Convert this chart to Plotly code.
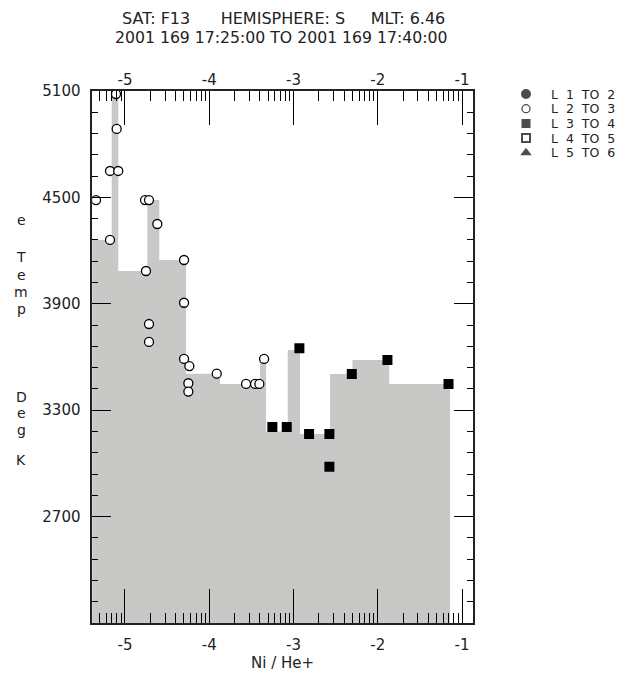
import math
import plotly.graph_objects as go

# ---------------- data ----------------
# x values are log10(Ni / He+), y values are electron temperature (deg K)
l23_x = [-5.344, -5.178, -5.178, -5.107, -5.099, -5.080, -4.762, -4.715, -4.751,
         -4.616, -4.715, -4.715, -4.299, -4.299, -4.299, -4.236, -4.248, -4.248,
         -3.911, -3.563, -3.456, -3.405, -3.349]
l23_y = [4485, 4260, 4649, 5083, 4886, 4649, 4485, 4485, 4085,
         4350, 3786, 3685, 4147, 3906, 3589, 3549, 3452, 3405,
         3506, 3448, 3448, 3448, 3589]

l34_x = [-3.251, -3.080, -2.930, -2.815, -2.574, -2.574, -2.308, -1.885, -1.160]
l34_y = [3205, 3205, 3649, 3166, 3166, 2981, 3504, 3583, 3448]

l12_x, l12_y = [], []
l45_x, l45_y = [], []
l56_x, l56_y = [], []

# step (histogram-like) background: bin edges and levels
step_edges = [-5.42, -5.158, -5.080, -4.735, -4.593, -4.276, -3.872, -3.397,
              -3.325, -3.068, -2.922, -2.565, -2.300, -1.865, -1.142]
step_levels = [4260, 5100, 4085, 4485, 4147, 3506, 3448, 3575,
               3180, 3640, 3166, 3504, 3583, 3448]

x_major = [-5, -4, -3, -2, -1]
x_major_text = ["-5", "-4", "-3", "-2", "-1"]
y_major = [2700, 3300, 3900, 4500, 5100]

legend_labels = ["L  1  TO  2", "L  2  TO  3", "L  3  TO  4", "L  4  TO  5", "L  5  TO  6"]
legend_symbols = ["circle", "circle", "square", "square-open", "triangle-up"]

title_line1 = "SAT: F13      HEMISPHERE: S     MLT: 6.46"
title_line2 = "2001 169 17:25:00 TO 2001 169 17:40:00"
x_title = "Ni / He+"
y_title_chars = ["e", "T", "e", "m", "p", "D", "e", "g", "K"]

# ---------------- layout helpers ----------------
W, H = 623, 680
X_RANGE = [-5.388, -0.873]
Y_RANGE = [2100, 5100]
PL, PR, PT, PB = 92.3, 472.7, 91, 623


def px(x):
    return x / W


def py(y):
    return 1 - y / H


FONT = "DejaVu Sans"
TXT = "#222222"
GRAY = "#c8c9c7"

minor_vals = []
for d in range(-6, 0):
    for k in range(2, 10):
        v = d + math.log10(k)
        if X_RANGE[0] <= v <= X_RANGE[1]:
            minor_vals.append(v)

fig = go.Figure()

# gray step area
fig.add_trace(go.Scatter(
    x=step_edges, y=step_levels + [step_levels[-1]],
    mode="lines", line=dict(shape="hv", width=0, color=GRAY),
    fill="tozeroy", fillcolor=GRAY, hoverinfo="skip", showlegend=False))

# data markers
fig.add_trace(go.Scatter(
    x=l23_x, y=l23_y, mode="markers", name="L 2 TO 3", showlegend=False,
    marker=dict(symbol="circle", size=9, color="white",
                line=dict(color="black", width=1.3))))
fig.add_trace(go.Scatter(
    x=l34_x, y=l34_y, mode="markers", name="L 3 TO 4", showlegend=False,
    marker=dict(symbol="square", size=10, color="black",
                line=dict(color="black", width=0))))

# dummy trace for the top axis
fig.add_trace(go.Scatter(x=[None], y=[None], xaxis="x2", yaxis="y",
                         showlegend=False, hoverinfo="skip"))

# manual legend keys
leg_fill = ["black", "white", "black", "black", "black"]
leg_size = [10, 8, 9, 8, 10]
fig.add_trace(go.Scatter(
    x=[6] * len(legend_labels), y=list(range(len(legend_labels))),
    xaxis="x3", yaxis="y3", mode="markers", showlegend=False, hoverinfo="skip",
    marker=dict(symbol=legend_symbols, size=leg_size, color=leg_fill,
                line=dict(color="black", width=[0, 1.3, 0, 2, 0]))))

tick_font = dict(family=FONT, size=15, color=TXT)
xdom = [px(PL), px(PR)]
ydom = [py(PB), py(PT)]

common_x = dict(
    range=X_RANGE, showgrid=False, zeroline=False, automargin=False,
    tickmode="array", tickvals=x_major, ticktext=x_major_text,
    ticks="inside", ticklen=34, tickwidth=1, tickcolor="black",
    tickfont=tick_font,
    minor=dict(tickmode="array", tickvals=minor_vals, ticks="inside",
               ticklen=10, tickwidth=1, tickcolor="black", showgrid=False),
)

row_gap = 14.7
row0 = 94
fig.update_layout(
    width=W, height=H,
    margin=dict(l=0, r=0, t=0, b=0),
    paper_bgcolor="white", plot_bgcolor="white",
    showlegend=False,
    xaxis=dict(domain=xdom, anchor="y", side="bottom",
               showline=True, linecolor="#222", linewidth=1.6, mirror=True,
               ticklabelstandoff=7, **common_x),
    xaxis2=dict(domain=xdom, anchor="y", overlaying="x", side="top",
                showline=False, ticklabelstandoff=2, **common_x),
    yaxis=dict(domain=ydom, anchor="x", range=Y_RANGE, automargin=False,
               showgrid=False, zeroline=False,
               showline=True, linecolor="#222", linewidth=1.6, mirror="ticks",
               tickmode="array", tickvals=y_major,
               ticks="inside", ticklen=19, tickwidth=1, tickcolor="black",
               tickfont=tick_font, ticklabelstandoff=7,
               minor=dict(tick0=2100, dtick=120, ticks="inside", ticklen=6,
                          tickwidth=1, tickcolor="black", showgrid=False)),
    xaxis3=dict(domain=[px(520), px(620)], anchor="y3", range=[0, 100],
                visible=False, fixedrange=True, automargin=False),
    yaxis3=dict(domain=[py(row0 + 4.5 * row_gap), py(row0 - 0.5 * row_gap)],
                anchor="x3", range=[len(legend_labels) - 0.5, -0.5],
                visible=False, fixedrange=True, automargin=False),
)

ann = []
for i, lab in enumerate(legend_labels):
    ann.append(dict(x=30, y=i, xref="x3", yref="y3", text=lab, showarrow=False,
                    xanchor="left", yanchor="middle", borderpad=0,
                    font=dict(family=FONT, size=12.5, color=TXT)))

ann.append(dict(x=px(283), y=py(18), xref="paper", yref="paper", text=title_line1,
                showarrow=False, xanchor="center", yanchor="middle",
                font=dict(family=FONT, size=16, color=TXT)))
ann.append(dict(x=px(281.5), y=py(37), xref="paper", yref="paper", text=title_line2,
                showarrow=False, xanchor="center", yanchor="middle",
                font=dict(family=FONT, size=15.7, color=TXT)))
ann.append(dict(x=px(282.5), y=py(663), xref="paper", yref="paper", text=x_title,
                showarrow=False, xanchor="center", yanchor="middle",
                font=dict(family=FONT, size=15, color=TXT)))

char_y = [220, 256.7, 275, 292.3, 309, 396.7, 413.3, 430, 460]
for ch, cy in zip(y_title_chars, char_y):
    ann.append(dict(x=px(21), y=py(cy), xref="paper", yref="paper", text=ch,
                    showarrow=False, xanchor="center", yanchor="middle",
                    font=dict(family=FONT, size=14, color=TXT)))

fig.update_layout(annotations=ann)

fig.write_html("out.html")
